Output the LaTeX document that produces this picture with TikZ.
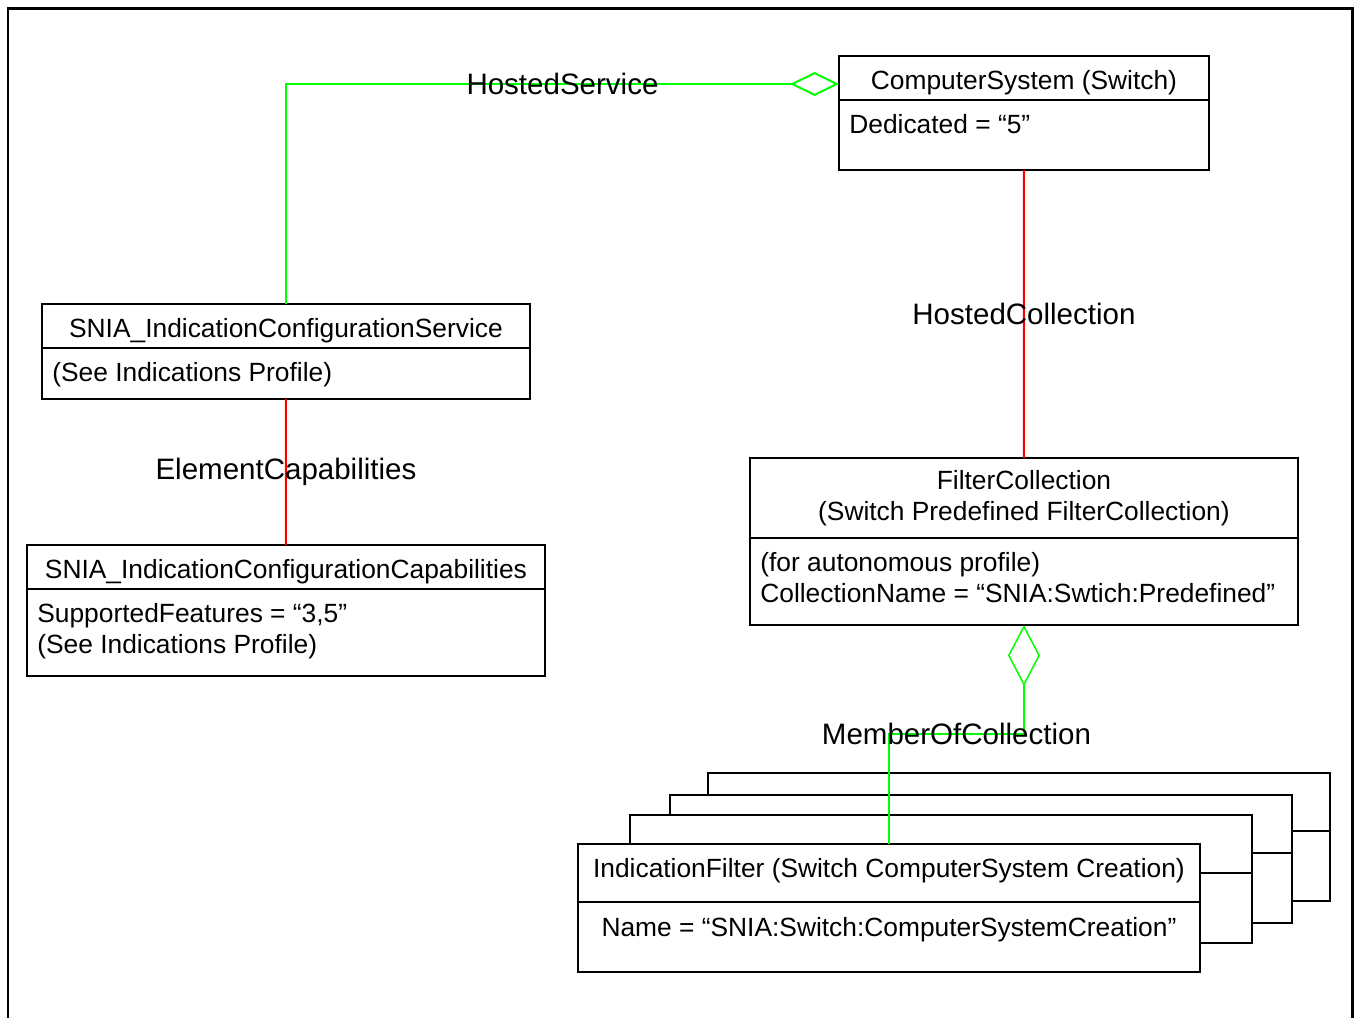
\documentclass[tikz,border=0pt]{standalone}
\usepackage{fontspec}
\setmainfont{Liberation Sans}
\usetikzlibrary{positioning,arrows.meta}
\definecolor{linkgreen}{RGB}{0,255,0}
\definecolor{linkred}{RGB}{255,0,0}

\begin{document}
\begin{tikzpicture}[
	x=0.02cm, y=-0.02cm,
	font=\fontsize{15}{17.6}\selectfont,
	classhead/.style={draw, line width=0.04cm, fill=white, inner sep=0pt, outer sep=0pt, anchor=north west, align=center},
	classbody/.style={draw, line width=0.04cm, fill=white, inner sep=0pt, outer sep=0pt},
	title/.style={text height=0.46cm, text depth=0pt},
	attr/.style={anchor=north west, inner sep=0pt, align=left},
	assoc/.style={text=black, font=\fontsize{16.8}{19}\selectfont}
	]
\useasboundingbox (0,0) rectangle (1354,1018);
\draw[line width=0.06cm] (8,1018) -- (8,8) -- (1352,8) -- (1352,1018);

\node[classhead, title, minimum width=7.4cm, minimum height=0.88cm] at (839,56) (cs) {ComputerSystem (Switch)};
\node[classbody, minimum width=7.4cm, minimum height=1.4cm, below=0pt of cs] (csb) {};
\node[attr] at ([shift={(10,14)}]csb.north west) (csa) {Dedicated = “5”};

\node[classhead, title, minimum width=9.76cm, minimum height=0.88cm] at (42,304) (svc) {SNIA\_IndicationConfigurationService};
\node[classbody, minimum width=9.76cm, minimum height=1.02cm, below=0pt of svc] (svcb) {};
\node[attr] at ([shift={(10,14)}]svcb.north west) (svca) {(See Indications Profile)};

\node[classhead, title, minimum width=10.36cm, minimum height=0.88cm] at (27,545) (cap) {SNIA\_IndicationConfigurationCapabilities};
\node[classbody, minimum width=10.36cm, minimum height=1.74cm, below=0pt of cap] (capb) {};
\node[attr] at ([shift={(10,14)}]capb.north west) (capa) {SupportedFeatures = “3,5”\\(See Indications Profile)};

\node[classhead, minimum width=10.96cm, minimum height=1.6cm] at (750,458) (fc) {FilterCollection\\(Switch Predefined FilterCollection)};
\node[classbody, minimum width=10.96cm, minimum height=1.74cm, below=0pt of fc] (fcb) {};
\node[attr] at ([shift={(10,14)}]fcb.north west) (fca) {(for autonomous profile)\\CollectionName = “SNIA:Swtich:Predefined”};

% stacked filters, back to front
\foreach \i/\x/\y in {3/708/773, 2/670/795, 1/630/815}{
	\node[classhead, line width=0.03cm, minimum width=12.44cm, minimum height=1.16cm] at (\x,\y) (flt\i) {};
	\node[classbody, line width=0.03cm, minimum width=12.44cm, minimum height=1.4cm, below=0pt of flt\i] (flt\i b) {};
}
\node[classhead, text depth=0.2cm, minimum width=12.44cm, minimum height=1.16cm] at (578,844) (flt) {IndicationFilter (Switch ComputerSystem Creation)};
\node[classbody, minimum width=12.44cm, minimum height=1.4cm, below=0pt of flt] (fltb) {};
\node[attr, anchor=north] at ([shift={(0,15)}]fltb.north) (flta) {Name = “SNIA:Switch:ComputerSystemCreation”};

\draw[linkgreen, line width=0.04cm, -{Diamond[open, length=0.98cm, width=0.48cm]}] (svc.north) |- node[pos=0.75, assoc] {HostedService} ([yshift=-0.12cm]cs.west);
\draw[linkred, line width=0.04cm] (csb.south) -- node[assoc] {HostedCollection} (fc.north);
\draw[linkred, line width=0.04cm] (svcb.south) -- node[assoc] {ElementCapabilities} (cap.north);
\draw[linkgreen, line width=0.03cm, {Diamond[open, length=1.22cm, width=0.64cm]}-] (fcb.south) -- ([yshift=-2.18cm]fcb.south) -| node[pos=0.25, assoc] {MemberOfCollection} (flt.north);

\end{tikzpicture}
\end{document}
